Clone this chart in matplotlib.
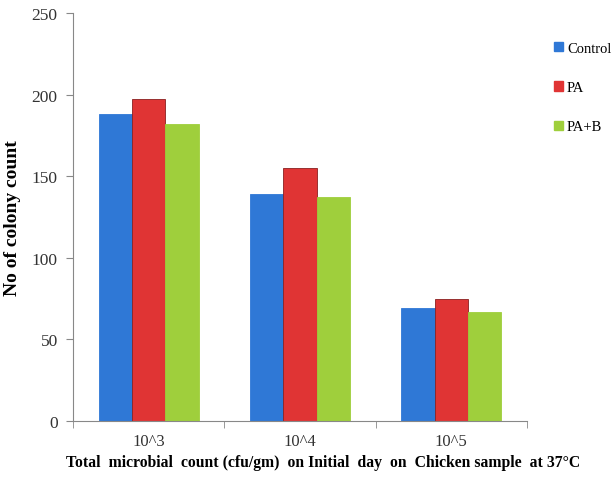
import numpy as np
import matplotlib.pyplot as plt
from matplotlib.patches import Patch

categories = ["10^3", "10^4", "10^5"]
control = [188, 139, 69]
pa = [197, 155, 75]
pa_b = [182, 137, 67]
series_names = ["Control", "PA", "PA+B"]
colors = ["#2f78d6", "#e03434", "#9fcf3c"]
edges = ["#2f78d6", "#8a2020", "#9fcf3c"]

plt.rcParams['font.family'] = ['Liberation Serif', 'DejaVu Serif']

fig = plt.figure(figsize=(6.12, 4.81), dpi=100)
ax = fig.add_axes([73 / 612, 1 - 422 / 481, 454 / 612, 408 / 481])

x = np.arange(len(categories))
w = 0.22
for i, (vals, c, ec) in enumerate(zip([control, pa, pa_b], colors, edges)):
    ax.bar(x + (i - 1) * w, vals, w, color=c, edgecolor=ec, linewidth=0.6)

ax.set_xlim(-0.5, 2.5)
ax.set_ylim(0, 250)
ax.set_yticks([0, 50, 100, 150, 200, 250])
ax.set_xticks(x)
ax.set_xticklabels(categories, fontsize=12)
ax.set_xticks([-0.5, 0.5, 1.5, 2.5], minor=True)
ax.tick_params(axis='x', which='major', length=0, pad=9)
ax.tick_params(axis='x', which='minor', length=5, color='#888888', direction='out')
ax.tick_params(axis='y', length=5, color='#888888', direction='out', labelsize=12.5,
               labelcolor='#333333', pad=6)
ax.tick_params(axis='x', labelcolor='#333333')

for s in ['top', 'right']:
    ax.spines[s].set_visible(False)
for s in ['left', 'bottom']:
    ax.spines[s].set_color('#888888')

ax.set_ylabel("No of colony count", fontsize=14, fontweight='bold', labelpad=8)
fig.text(323 / 612, 1 - 463 / 481,
         "Total  microbial  count (cfu/gm)  on Initial  day  on  Chicken sample  at 37\u00b0C",
         fontsize=11.3, fontweight='bold', ha='center', va='center')

handles = [Patch(facecolor=c, edgecolor=c) for c in colors]
fig.legend(handles, series_names, loc='upper left', bbox_to_anchor=(548 / 612, 1 - 37 / 481),
           frameon=False, prop={'size': 10.5}, handlelength=0.6, handleheight=0.6,
           handletextpad=0.3, labelspacing=1.8, borderaxespad=0)

fig.savefig("out.png", dpi=100)
